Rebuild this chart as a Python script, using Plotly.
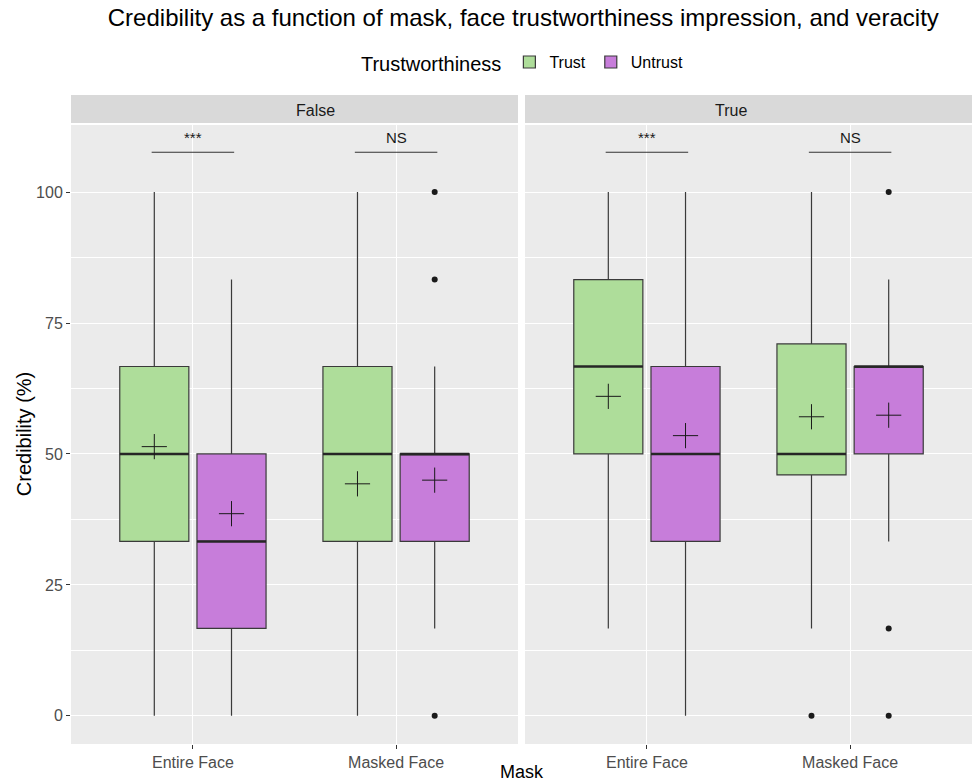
import plotly.graph_objects as go

# ---------------- data ----------------
facets = ["False", "True"]
masks = ["Entire Face", "Masked Face"]
groups = ["Trust", "Untrust"]

# order inside each list: [False-Entire, False-Masked, True-Entire, True-Masked]
trust_low = [0, 0, 16.7, 16.7]
trust_q1 = [33.3, 33.3, 50.0, 46.0]
trust_med = [50.0, 50.0, 66.7, 50.0]
trust_q3 = [66.7, 66.7, 83.3, 71.0]
trust_high = [100, 100, 100, 100]
trust_mean = [51.4, 44.3, 61.0, 57.1]
trust_out = [[], [], [], [0]]

untrust_low = [0, 16.7, 0, 33.3]
untrust_q1 = [16.7, 33.3, 33.3, 50.0]
untrust_med = [33.3, 50.0, 50.0, 66.7]
untrust_q3 = [50.0, 50.0, 66.7, 66.7]
untrust_high = [83.3, 66.7, 100, 83.3]
untrust_mean = [38.6, 45.0, 53.5, 57.4]
untrust_out = [[], [100, 83.3, 0], [], [100, 16.7, 0]]

sig_labels = ["***", "NS", "***", "NS"]
y_ticks = [0, 25, 50, 75, 100]

# ---------------- styling ----------------
colors = {"Trust": "#AEDD9A", "Untrust": "#C77DDA"}
offsets = {"Trust": -0.19, "Untrust": 0.19}
box_w = 0.34
FONT = "Liberation Sans, Arial, Helvetica, sans-serif"

stats = {
    "Trust": (trust_low, trust_q1, trust_med, trust_q3, trust_high, trust_mean, trust_out),
    "Untrust": (untrust_low, untrust_q1, untrust_med, untrust_q3, untrust_high, untrust_mean, untrust_out),
}

fig = go.Figure()
axes = [("x", "y"), ("x2", "y2")]

for g in groups:
    low, q1, med, q3, high, mean, out = stats[g]
    for fi, facet in enumerate(facets):
        xa, ya = axes[fi]
        for mi, m in enumerate(masks):
            k = fi * 2 + mi
            pos = mi + 1 + offsets[g]
            fig.add_trace(go.Box(
                x=[pos], q1=[q1[k]], median=[med[k]], q3=[q3[k]],
                lowerfence=[low[k]], upperfence=[high[k]],
                width=box_w, whiskerwidth=0,
                fillcolor=colors[g], line=dict(color="#3a3a3a", width=1.2),
                name=g, legendgroup=g, showlegend=(fi == 0 and mi == 0),
                xaxis=xa, yaxis=ya, hoverinfo="skip",
            ))
            # thicker median line
            fig.add_trace(go.Scatter(
                x=[pos - box_w / 2, pos + box_w / 2], y=[med[k], med[k]],
                mode="lines", line=dict(color="#262626", width=2.6),
                showlegend=False, xaxis=xa, yaxis=ya, hoverinfo="skip",
            ))
            # mean marker
            fig.add_trace(go.Scatter(
                x=[pos], y=[mean[k]], mode="markers",
                marker=dict(symbol="cross-thin", size=18,
                            line=dict(color="#1a1a1a", width=1)),
                showlegend=False, xaxis=xa, yaxis=ya, hoverinfo="skip",
            ))
            # outliers
            if out[k]:
                fig.add_trace(go.Scatter(
                    x=[pos] * len(out[k]), y=out[k], mode="markers",
                    marker=dict(symbol="circle", size=6, color="#1a1a1a"),
                    showlegend=False, xaxis=xa, yaxis=ya, hoverinfo="skip",
                ))

# significance bars
sig_y = 107.6
for fi in range(2):
    xa, ya = axes[fi]
    for mi in range(2):
        k = fi * 2 + mi
        c = mi + 1
        fig.add_shape(type="line", xref=xa, yref=ya,
                      x0=c + offsets["Trust"] - 0.013, x1=c + offsets["Untrust"] + 0.013,
                      y0=sig_y, y1=sig_y, line=dict(color="#333333", width=1.1))
        fig.add_annotation(xref=xa, yref=ya, x=c, y=sig_y + 2.9, text=sig_labels[k],
                           showarrow=False, yanchor="middle",
                           font=dict(size=15, color="#1a1a1a", family=FONT))

# facet strips
dom1 = [0, 0.4961]
dom2 = [0.5039, 1]
for dom, lab in [(dom1, facets[0]), (dom2, facets[1])]:
    fig.add_shape(type="rect", xref="paper", yref="paper",
                  x0=dom[0], x1=dom[1], y0=1.0032, y1=1.0485,
                  fillcolor="#D9D9D9", line=dict(width=0), layer="below")
    fig.add_annotation(xref="paper", yref="paper", x=(dom[0] + dom[1]) / 2, y=1.024,
                       text=lab, showarrow=False, yanchor="middle",
                       font=dict(size=16, color="#1a1a1a", family=FONT))

# axis titles
fig.add_annotation(xref="paper", yref="paper", x=0.5, y=-0.0452, text="Mask",
                   showarrow=False, yanchor="middle",
                   font=dict(size=18, color="black", family=FONT))
fig.add_annotation(xref="paper", yref="paper", x=-0.0525, y=0.5, text="Credibility (%)",
                   showarrow=False, textangle=-90, xanchor="center", yanchor="middle",
                   font=dict(size=20, color="black", family=FONT))

xaxis_common = dict(
    range=[0.4, 2.6], tickmode="array", tickvals=[1, 2], ticktext=masks,
    showgrid=True, gridcolor="white", gridwidth=1.2, zeroline=False,
    ticks="outside", ticklen=4, tickcolor="#333333",
    tickfont=dict(size=16, color="#4d4d4d", family=FONT), showline=False,
    automargin=False,
)
yaxis_common = dict(
    range=[-5.37, 112.8], tickmode="array", tickvals=y_ticks,
    showgrid=True, gridcolor="white", gridwidth=1.2, zeroline=False,
    minor=dict(tickvals=[12.5, 37.5, 62.5, 87.5], showgrid=True,
               gridcolor="white", gridwidth=0.6, ticklen=0),
    automargin=False,
)

fig.update_layout(
    width=972, height=784,
    margin=dict(l=71, r=0, t=125, b=40, autoexpand=False),
    paper_bgcolor="white", plot_bgcolor="#EBEBEB",
    boxmode="overlay",
    font=dict(family=FONT),
    title=dict(text="Credibility as a function of mask, face trustworthiness impression, and veracity",
               x=0.502, xref="paper", xanchor="center",
               y=0.977, yref="container", yanchor="middle",
               font=dict(size=24, color="black", family=FONT)),
    legend=dict(orientation="h", x=0.3196, xanchor="left", y=1.1, yanchor="middle",
                title=dict(text="Trustworthiness", font=dict(size=20, color="black", family=FONT)),
                font=dict(size=16, color="black", family=FONT),
                bgcolor="rgba(0,0,0,0)", itemwidth=30),
    xaxis=dict(domain=dom1, anchor="y", **xaxis_common),
    xaxis2=dict(domain=dom2, anchor="y2", **xaxis_common),
    yaxis=dict(domain=[0, 1], anchor="x", ticks="outside", ticklen=4, tickcolor="#333333",
               tickfont=dict(size=16, color="#4d4d4d", family=FONT), **yaxis_common),
    yaxis2=dict(domain=[0, 1], anchor="x2", matches="y", showticklabels=False, ticks="",
                **yaxis_common),
)

fig.write_html("out.html", config={"displayModeBar": False},
               post_script="document.body.style.margin='0';document.body.style.padding='0';")
